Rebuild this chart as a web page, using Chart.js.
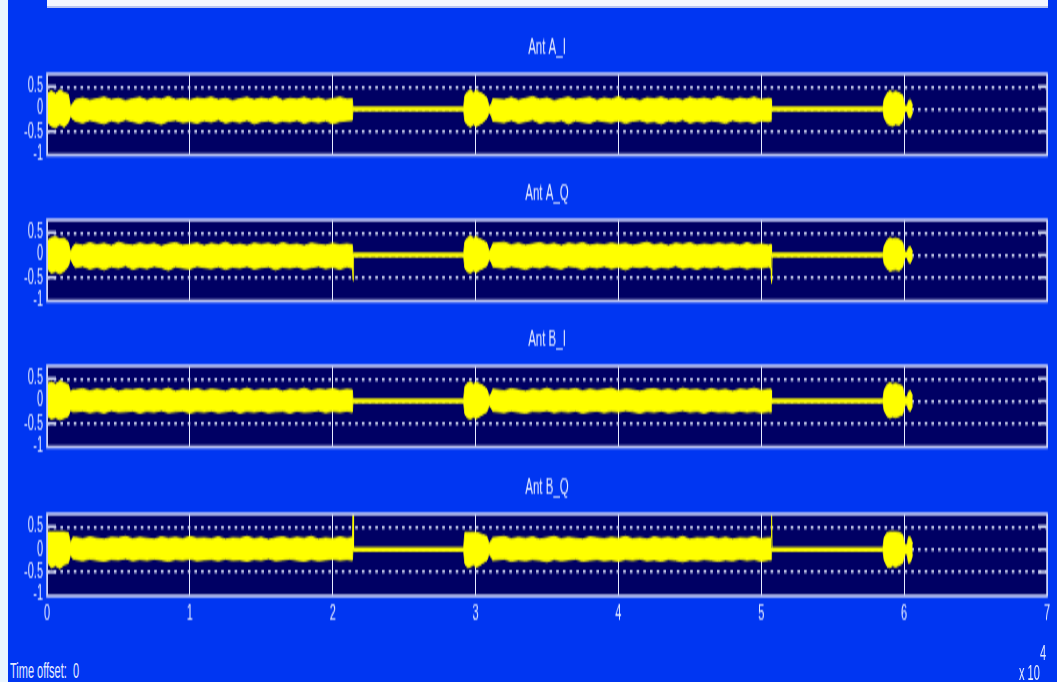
<!DOCTYPE html>
<html><head><meta charset="utf-8">
<script src="https://cdn.jsdelivr.net/npm/chart.js@4.4.1/dist/chart.umd.min.js"></script>
<style>
html,body{margin:0;padding:0;background:#eaf6ff;overflow:hidden;width:1057px;height:682px}
#fig{position:absolute;left:0;top:0;width:1057px;height:341px;transform:scaleY(2);transform-origin:0 0}
#bg{position:absolute;left:8px;top:0;width:1049px;height:341px;background:#0036f2}
#topband{position:absolute;left:47px;top:0;width:1001px;height:2.6px;background:#f3f6ff;border-bottom:0.5px solid #b8c4f0}
.panel{position:absolute;left:0}
.txt{position:absolute;font-family:"Liberation Sans",Arial,sans-serif;font-size:11px;color:#e4ebff;white-space:nowrap;line-height:12px}
</style></head>
<body>
<div id="fig">
  <div id="bg"></div>
  <div id="topband"></div>
  <canvas id="c0" class="panel" width="1057" height="79" style="top:10.5px"></canvas>
  <canvas id="c1" class="panel" width="1057" height="79" style="top:84px"></canvas>
  <canvas id="c2" class="panel" width="1057" height="79" style="top:157.4px"></canvas>
  <canvas id="c3" class="panel" width="1057" height="89" style="top:231px"></canvas>
  <div class="txt" style="left:10px;top:329px">Time offset:&nbsp; 0</div>
  <div class="txt" style="left:1019px;top:330px">x 10</div>
  <div class="txt" style="left:1040px;top:320px">4</div>
</div>
<script>
// ---- data (x in units of 10^4 samples) ----
const panelTitles = ["Ant A_I", "Ant A_Q", "Ant B_I", "Ant B_Q"];
const xTicks = [0, 1, 2, 3, 4, 5, 6, 7];
const yTicks = [-1, -0.5, 0, 0.5];

const timeX = [
  0.005, 0.03, 0.06, 0.09, 0.12, 0.15,
  0.165, 0.18,
  0.20, 0.25, 0.30, 0.35, 0.40, 0.45, 0.50, 0.55, 0.60, 0.65,
  0.70, 0.75, 0.80, 0.85, 0.90, 0.95, 1.00, 1.05, 1.10, 1.15,
  1.20, 1.25, 1.30, 1.35, 1.40, 1.45, 1.50, 1.55, 1.60, 1.65,
  1.70, 1.75, 1.80, 1.85, 1.90, 1.95, 2.00, 2.05, 2.10, 2.138,
  2.142,
  2.146, 2.915,
  2.925, 2.945, 2.965, 2.985, 3.005, 3.025, 3.05, 3.08,
  3.095, 3.11,
  3.12, 3.20, 3.25, 3.30, 3.35, 3.40, 3.45, 3.50, 3.55, 3.60,
  3.65, 3.70, 3.75, 3.80, 3.85, 3.90, 3.95, 4.00, 4.05, 4.10,
  4.15, 4.20, 4.25, 4.30, 4.35, 4.40, 4.45, 4.50, 4.55, 4.60,
  4.65, 4.70, 4.75, 4.80, 4.85, 4.90, 4.95, 5.00, 5.05, 5.068,
  5.072,
  5.076, 5.85,
  5.86, 5.88, 5.90, 5.92, 5.94, 5.965, 5.99, 6.005, 6.02, 6.03, 6.045, 6.06
];

const antAI_upper = [
  0.34, 0.40, 0.33, 0.42, 0.36, 0.32,
  0.04, 0.12,
  0.20, 0.24, 0.19, 0.22, 0.26, 0.20, 0.23, 0.18, 0.22, 0.25,
  0.19, 0.24, 0.21, 0.27, 0.20, 0.23, 0.19, 0.24, 0.22, 0.26,
  0.20, 0.23, 0.18, 0.22, 0.25, 0.20, 0.24, 0.21, 0.27, 0.19,
  0.23, 0.21, 0.25, 0.20, 0.24, 0.19, 0.22, 0.26, 0.21, 0.22,
  0,
  0, 0,
  0.30, 0.38, 0.42, 0.36, 0.41, 0.37, 0.33, 0.24,
  0.05, 0.10,
  0.22, 0.20, 0.25, 0.19, 0.23, 0.27, 0.21, 0.24, 0.18, 0.22,
  0.26, 0.20, 0.23, 0.25, 0.19, 0.24, 0.21, 0.27, 0.20, 0.23,
  0.18, 0.24, 0.22, 0.26, 0.20, 0.23, 0.19, 0.25, 0.21, 0.24,
  0.20, 0.27, 0.22, 0.19, 0.24, 0.21, 0.26, 0.20, 0.23, 0.22,
  0,
  0, 0,
  0.22, 0.34, 0.40, 0.36, 0.39, 0.35, 0.30, 0.06, 0.06, 0.18, 0.20, 0.08
];
const antAI_lower = [
  -0.30, -0.38, -0.42, -0.34, -0.40, -0.30,
  -0.16, -0.22,
  -0.27, -0.31, -0.25, -0.29, -0.33, -0.26, -0.30, -0.24, -0.28, -0.32,
  -0.26, -0.29, -0.34, -0.27, -0.25, -0.30, -0.28, -0.32, -0.26, -0.29,
  -0.24, -0.31, -0.27, -0.30, -0.25, -0.33, -0.28, -0.26, -0.31, -0.27,
  -0.29, -0.25, -0.32, -0.27, -0.30, -0.26, -0.33, -0.28, -0.26, -0.25,
  0,
  0, 0,
  -0.28, -0.36, -0.40, -0.34, -0.39, -0.35, -0.30, -0.20,
  -0.08, -0.15,
  -0.27, -0.30, -0.25, -0.31, -0.28, -0.24, -0.32, -0.27, -0.29, -0.25,
  -0.33, -0.26, -0.29, -0.31, -0.25, -0.28, -0.30, -0.26, -0.32, -0.27,
  -0.25, -0.30, -0.28, -0.33, -0.26, -0.29, -0.24, -0.31, -0.27, -0.30,
  -0.26, -0.28, -0.32, -0.25, -0.29, -0.27, -0.31, -0.26, -0.28, -0.26,
  0,
  0, 0,
  -0.20, -0.32, -0.36, -0.38, -0.34, -0.36, -0.28, -0.05, -0.05, -0.18, -0.20, -0.08
];

const antAQ_upper = [
  0.32, 0.38, 0.40, 0.35, 0.37, 0.28,
  0.06, 0.18,
  0.24, 0.21, 0.27, 0.22, 0.25, 0.20, 0.28, 0.23, 0.21, 0.26,
  0.22, 0.25, 0.19, 0.24, 0.27, 0.21, 0.23, 0.26, 0.20, 0.25,
  0.22, 0.28, 0.21, 0.24, 0.20, 0.26, 0.23, 0.25, 0.21, 0.27,
  0.22, 0.24, 0.20, 0.26, 0.23, 0.21, 0.25, 0.22, 0.24, 0.22,
  0,
  0, 0,
  0.30, 0.38, 0.42, 0.37, 0.40, 0.36, 0.32, 0.26,
  0.08, 0.15,
  0.25, 0.28, 0.22, 0.26, 0.21, 0.24, 0.27, 0.22, 0.25, 0.20,
  0.26, 0.23, 0.27, 0.21, 0.24, 0.22, 0.26, 0.23, 0.25, 0.21,
  0.24, 0.28, 0.22, 0.25, 0.20, 0.26, 0.23, 0.27, 0.21, 0.24,
  0.22, 0.26, 0.23, 0.25, 0.21, 0.27, 0.22, 0.24, 0.21, 0.23,
  0,
  0, 0,
  0.20, 0.32, 0.38, 0.35, 0.37, 0.34, 0.28, 0.06, 0.06, 0.16, 0.18, 0.06
];
const antAQ_lower = [
  -0.32, -0.40, -0.37, -0.42, -0.36, -0.25,
  -0.08, -0.20,
  -0.28, -0.25, -0.31, -0.27, -0.33, -0.26, -0.29, -0.24, -0.32, -0.27,
  -0.30, -0.25, -0.28, -0.34, -0.26, -0.29, -0.31, -0.25, -0.28, -0.30,
  -0.26, -0.32, -0.27, -0.29, -0.25, -0.31, -0.28, -0.26, -0.33, -0.27,
  -0.29, -0.26, -0.31, -0.28, -0.25, -0.30, -0.27, -0.32, -0.26, -0.30,
  -0.57,
  0, 0,
  -0.30, -0.38, -0.40, -0.35, -0.39, -0.34, -0.30, -0.24,
  -0.10, -0.16,
  -0.26, -0.30, -0.25, -0.28, -0.32, -0.26, -0.29, -0.24, -0.28, -0.31,
  -0.25, -0.27, -0.32, -0.26, -0.29, -0.25, -0.30, -0.27, -0.33, -0.26,
  -0.28, -0.25, -0.31, -0.27, -0.29, -0.24, -0.30, -0.27, -0.32, -0.26,
  -0.29, -0.25, -0.31, -0.28, -0.26, -0.30, -0.27, -0.29, -0.26, -0.30,
  -0.62,
  0, 0,
  -0.20, -0.30, -0.36, -0.34, -0.33, -0.35, -0.27, -0.05, -0.05, -0.16, -0.18, -0.06
];

const antBI_upper = [
  0.38, 0.42, 0.37, 0.44, 0.40, 0.36,
  0.20, 0.24,
  0.24, 0.27, 0.22, 0.26, 0.23, 0.28, 0.21, 0.25, 0.24, 0.27,
  0.22, 0.26, 0.23, 0.28, 0.21, 0.25, 0.23, 0.27, 0.22, 0.26,
  0.24, 0.21, 0.27, 0.23, 0.28, 0.22, 0.25, 0.24, 0.27, 0.21,
  0.25, 0.23, 0.28, 0.22, 0.26, 0.24, 0.27, 0.23, 0.25, 0.24,
  0,
  0, 0,
  0.32, 0.40, 0.42, 0.37, 0.41, 0.38, 0.34, 0.26,
  0.10, 0.16,
  0.26, 0.22, 0.27, 0.24, 0.21, 0.26, 0.23, 0.28, 0.22, 0.25,
  0.24, 0.27, 0.22, 0.26, 0.23, 0.25, 0.28, 0.22, 0.26, 0.24,
  0.21, 0.25, 0.27, 0.23, 0.26, 0.22, 0.28, 0.24, 0.25, 0.22,
  0.27, 0.23, 0.25, 0.21, 0.26, 0.24, 0.28, 0.23, 0.25, 0.25,
  0,
  0, 0,
  0.24, 0.36, 0.40, 0.37, 0.39, 0.36, 0.32, 0.08, 0.08, 0.20, 0.22, 0.10
];
const antBI_lower = [
  -0.34, -0.40, -0.37, -0.42, -0.38, -0.34,
  -0.20, -0.24,
  -0.24, -0.22, -0.26, -0.23, -0.27, -0.21, -0.25, -0.24, -0.22, -0.27,
  -0.23, -0.25, -0.21, -0.26, -0.24, -0.22, -0.27, -0.23, -0.25, -0.22,
  -0.26, -0.24, -0.21, -0.27, -0.23, -0.25, -0.22, -0.26, -0.24, -0.23,
  -0.27, -0.22, -0.25, -0.24, -0.21, -0.26, -0.23, -0.25, -0.22, -0.25,
  0,
  0, 0,
  -0.30, -0.38, -0.40, -0.36, -0.39, -0.35, -0.30, -0.24,
  -0.10, -0.16,
  -0.23, -0.26, -0.22, -0.25, -0.27, -0.23, -0.24, -0.21, -0.26, -0.23,
  -0.25, -0.22, -0.27, -0.24, -0.22, -0.26, -0.23, -0.25, -0.21, -0.24,
  -0.27, -0.23, -0.25, -0.22, -0.26, -0.24, -0.21, -0.25, -0.23, -0.27,
  -0.22, -0.25, -0.24, -0.26, -0.22, -0.25, -0.23, -0.26, -0.24, -0.25,
  0,
  0, 0,
  -0.22, -0.34, -0.38, -0.35, -0.37, -0.34, -0.30, -0.08, -0.08, -0.20, -0.22, -0.10
];

const antBQ_upper = [
  0.38, 0.38, 0.38, 0.38, 0.38, 0.36,
  0.14, 0.26,
  0.26, 0.23, 0.27, 0.24, 0.22, 0.26, 0.25, 0.28, 0.23, 0.26,
  0.24, 0.22, 0.27, 0.24, 0.26, 0.23, 0.28, 0.24, 0.25, 0.23,
  0.27, 0.22, 0.25, 0.24, 0.28, 0.23, 0.26, 0.21, 0.25, 0.27,
  0.23, 0.26, 0.24, 0.28, 0.22, 0.25, 0.23, 0.27, 0.24, 0.26,
  0.78,
  0, 0,
  0.37, 0.37, 0.37, 0.37, 0.37, 0.35, 0.32, 0.28,
  0.12, 0.20,
  0.25, 0.28, 0.23, 0.26, 0.24, 0.27, 0.22, 0.25, 0.28, 0.23,
  0.26, 0.24, 0.22, 0.27, 0.25, 0.23, 0.26, 0.24, 0.28, 0.23,
  0.25, 0.22, 0.27, 0.24, 0.26, 0.23, 0.28, 0.22, 0.25, 0.24,
  0.27, 0.23, 0.26, 0.22, 0.25, 0.24, 0.27, 0.23, 0.25, 0.25,
  0.78,
  0, 0,
  0.26, 0.36, 0.38, 0.38, 0.38, 0.37, 0.32, 0.10, 0.10, 0.27, 0.26, 0.12
];
const antBQ_lower = [
  -0.30, -0.40, -0.36, -0.42, -0.34, -0.30,
  -0.12, -0.20,
  -0.22, -0.25, -0.21, -0.24, -0.26, -0.22, -0.23, -0.20, -0.25, -0.22,
  -0.24, -0.21, -0.23, -0.26, -0.22, -0.24, -0.21, -0.25, -0.23, -0.22,
  -0.25, -0.21, -0.24, -0.23, -0.26, -0.22, -0.24, -0.20, -0.25, -0.23,
  -0.21, -0.24, -0.26, -0.22, -0.25, -0.23, -0.21, -0.24, -0.22, -0.24,
  0,
  0, 0,
  -0.32, -0.40, -0.38, -0.34, -0.39, -0.36, -0.30, -0.24,
  -0.10, -0.18,
  -0.24, -0.21, -0.26, -0.23, -0.25, -0.22, -0.24, -0.27, -0.22, -0.25,
  -0.23, -0.21, -0.26, -0.24, -0.22, -0.25, -0.23, -0.26, -0.22, -0.24,
  -0.21, -0.25, -0.23, -0.26, -0.22, -0.24, -0.27, -0.23, -0.25, -0.22,
  -0.24, -0.26, -0.23, -0.25, -0.21, -0.24, -0.22, -0.26, -0.23, -0.23,
  0,
  0, 0,
  -0.24, -0.38, -0.40, -0.36, -0.39, -0.35, -0.30, -0.10, -0.10, -0.30, -0.28, -0.12
];

const uppers = [antAI_upper, antAQ_upper, antBI_upper, antBQ_upper];
const lowers = [antAI_lower, antAQ_lower, antBI_lower, antBQ_lower];

// ---- styles ----
const SIG = '#ffff00';
const TXT = '#e4ebff';
const PLOT_BG = '#000064';
const FRAME = '#c6cef4';
const GRIDV = '#e6eaff';
const GRIDH = '#d2d8f2';
const FONT = '"Liberation Sans", Arial, sans-serif';

const matlabFrame = {
  id: 'matlabFrame',
  beforeDraw(chart) {
    const {ctx, chartArea: a} = chart;
    ctx.save();
    ctx.fillStyle = PLOT_BG;
    ctx.fillRect(a.left, a.top, a.right - a.left, a.bottom - a.top);
    ctx.restore();
  },
  beforeDatasetsDraw(chart) {
    const {ctx, chartArea: a} = chart;
    const ys = chart.scales.y;
    ctx.save();
    ctx.strokeStyle = GRIDH;
    ctx.lineWidth = 1.5;
    yTicks.forEach(v => {
      if (v <= -1) return;
      const py = ys.getPixelForValue(v);
      ctx.beginPath();
      ctx.moveTo(a.left, py); ctx.lineTo(a.left + 9, py);
      ctx.moveTo(a.right - 9, py); ctx.lineTo(a.right, py);
      ctx.stroke();
    });
    ctx.restore();
  },
  afterDraw(chart) {
    const {ctx, chartArea: a} = chart;
    ctx.save();
    ctx.strokeStyle = FRAME;
    ctx.lineWidth = 1.6;
    ctx.strokeRect(a.left, a.top, a.right - a.left, a.bottom - a.top);
    ctx.restore();
  }
};

const flatSeg = c => (c.p0.parsed.y === 0 && c.p1.parsed.y === 0) ? 2.0 : 0.8;

function makeChart(idx) {
  const showX = idx === 3;
  const pts = arr => timeX.map((x, i) => ({x: x, y: arr[i]}));
  return new Chart(document.getElementById('c' + idx), {
    type: 'line',
    data: {
      datasets: [
        {data: pts(lowers[idx]), borderColor: SIG, backgroundColor: SIG, borderWidth: 0.8, pointRadius: 0, fill: false, tension: 0,
         segment: {borderWidth: flatSeg}},
        {data: pts(uppers[idx]), borderColor: SIG, backgroundColor: SIG, borderWidth: 0.8, pointRadius: 0, fill: '-1', tension: 0,
         segment: {borderWidth: flatSeg}}
      ]
    },
    options: {
      responsive: false,
      animation: false,
      devicePixelRatio: 1,
      events: [],
      layout: {padding: {left: 0, right: 10, top: 0, bottom: showX ? 0 : 12.5}},
      plugins: {
        legend: {display: false},
        tooltip: {enabled: false},
        title: {
          display: true, text: panelTitles[idx], fullSize: false, color: TXT,
          font: {family: FONT, size: 11.5, weight: 'normal', lineHeight: 1.2},
          padding: {top: 6.1, bottom: 6.1}
        }
      },
      scales: {
        x: {
          type: 'linear', min: 0, max: 7,
          afterBuildTicks: s => { s.ticks = xTicks.map(v => ({value: v})); },
          grid: {color: GRIDV, lineWidth: 1, drawTicks: false},
          border: {display: false},
          ticks: {display: showX, color: TXT, font: {family: FONT, size: 11}, padding: 2,
                  maxRotation: 0, autoSkip: false, callback: v => String(v)},
          afterFit: s => { s.height = showX ? 22 : 0; s.paddingLeft = 0; s.paddingRight = 0; }
        },
        y: {
          type: 'linear', min: -1.03, max: 0.78,
          afterBuildTicks: s => { s.ticks = yTicks.map(v => ({value: v})); },
          grid: {color: c => (c.tick && c.tick.value <= -1) ? 'rgba(0,0,0,0)' : GRIDH, lineWidth: 1.5, drawTicks: false},
          border: {display: false, dash: [2.6, 4.1]},
          ticks: {color: TXT, font: {family: FONT, size: 11}, padding: 4, autoSkip: false,
                  callback: v => String(v)},
          afterFit: s => { s.width = 47; s.paddingTop = 0; s.paddingBottom = 0; }
        }
      }
    },
    plugins: [matlabFrame]
  });
}

for (let i = 0; i < 4; i++) makeChart(i);
</script>
</body></html>
